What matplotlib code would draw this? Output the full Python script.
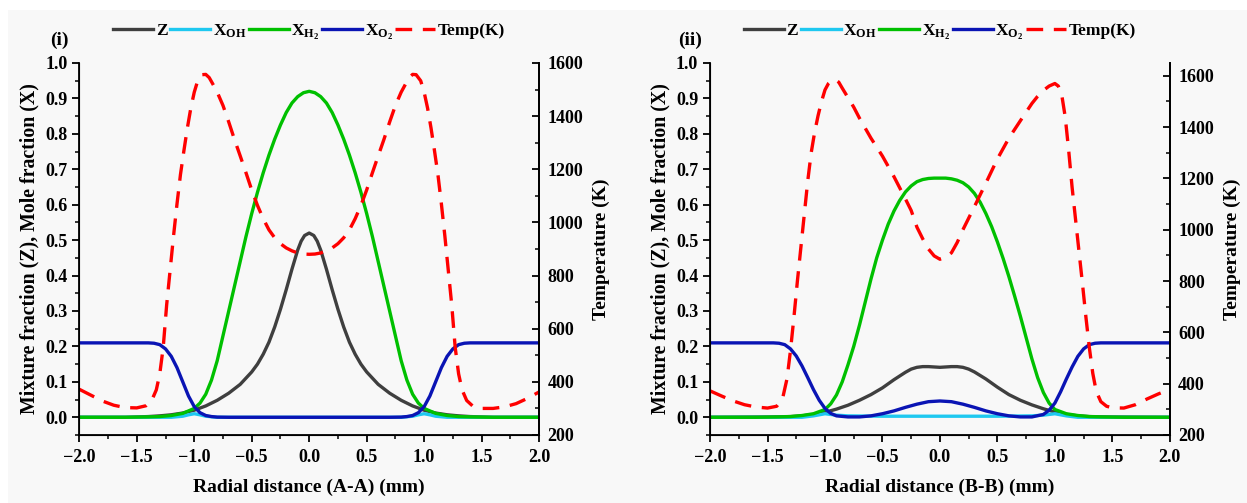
import matplotlib
matplotlib.use('Agg')
import matplotlib.pyplot as plt
from matplotlib.ticker import MultipleLocator, FuncFormatter
from matplotlib.patches import Rectangle

plt.rcParams['font.family'] = 'Liberation Serif'
plt.rcParams['font.weight'] = 'bold'
plt.rcParams['mathtext.fontset'] = 'custom'
plt.rcParams['mathtext.rm'] = 'Liberation Serif:bold'
plt.rcParams['mathtext.bf'] = 'Liberation Serif:bold'
plt.rcParams['mathtext.it'] = 'Liberation Serif:bold'

# ---------------- panel (i) : section A-A ----------------
x_t1 = [-2.0, -1.9, -1.8, -1.7, -1.6, -1.5, -1.42, -1.37, -1.33, -1.3, -1.27, -1.24, -1.21, -1.18, -1.15,
        -1.12, -1.09, -1.06, -1.03, -1.0, -0.97, -0.93, -0.9, -0.87, -0.84, -0.8, -0.75, -0.7, -0.65, -0.6,
        -0.55, -0.5, -0.45, -0.4, -0.35, -0.3, -0.25, -0.2, -0.15, -0.1, -0.05, 0.0,
        0.05, 0.1, 0.15, 0.2, 0.25, 0.3, 0.35, 0.4, 0.45, 0.5, 0.55, 0.6, 0.65, 0.7, 0.75, 0.8, 0.84, 0.87,
        0.9, 0.93, 0.97, 1.0, 1.03, 1.06, 1.09, 1.12, 1.15, 1.18, 1.21, 1.24, 1.27, 1.3, 1.33, 1.37, 1.42,
        1.5, 1.6, 1.7, 1.8, 1.9, 2.0]
temp1 = [372, 350, 328, 312, 303, 302, 310, 330, 370, 430, 530, 690, 820, 950, 1070,
         1180, 1270, 1355, 1430, 1490, 1533, 1556, 1557, 1545, 1522, 1490, 1440, 1378, 1312, 1250,
         1187, 1122, 1064, 1014, 972, 942, 920, 904, 893, 885, 881, 880,
         881, 885, 893, 904, 920, 942, 972, 1014, 1064, 1122, 1187, 1250, 1312, 1378, 1440, 1490, 1522, 1545,
         1557, 1556, 1533, 1490, 1430, 1355, 1270, 1180, 1070, 950, 820, 690, 530, 430, 370, 330, 310,
         300, 300, 306, 318, 338, 362]

x_h2_1 = [-2.0, -1.6, -1.4, -1.3, -1.2, -1.1, -1.0, -0.95, -0.9, -0.85, -0.8, -0.75, -0.7, -0.65, -0.6,
          -0.55, -0.5, -0.45, -0.4, -0.35, -0.3, -0.25, -0.2, -0.15, -0.1, -0.05, 0.0,
          0.05, 0.1, 0.15, 0.2, 0.25, 0.3, 0.35, 0.4, 0.45, 0.5, 0.55, 0.6, 0.65, 0.7, 0.75, 0.8,
          0.85, 0.9, 0.95, 1.0, 1.1, 1.2, 1.3, 1.4, 1.6, 2.0]
h2_1 = [0, 0, 0.001, 0.002, 0.005, 0.011, 0.025, 0.04, 0.065, 0.105, 0.16, 0.23, 0.3, 0.37, 0.44,
        0.51, 0.575, 0.635, 0.69, 0.74, 0.785, 0.825, 0.86, 0.887, 0.905, 0.916, 0.92,
        0.916, 0.905, 0.887, 0.86, 0.825, 0.785, 0.74, 0.69, 0.635, 0.575, 0.51, 0.44, 0.37, 0.3, 0.23, 0.16,
        0.105, 0.065, 0.04, 0.025, 0.011, 0.005, 0.002, 0.001, 0, 0]

x_z1 = [-2.0, -1.6, -1.4, -1.3, -1.2, -1.1, -1.0, -0.9, -0.8, -0.7, -0.6, -0.5, -0.45, -0.4, -0.35, -0.3,
        -0.25, -0.2, -0.15, -0.1, -0.07, -0.04, 0.0, 0.04, 0.07, 0.1, 0.15, 0.2, 0.25, 0.3, 0.35, 0.4, 0.45, 0.5,
        0.6, 0.7, 0.8, 0.9, 1.0, 1.1, 1.2, 1.3, 1.4, 1.6, 2.0]
z1 = [0, 0, 0.002, 0.004, 0.007, 0.012, 0.02, 0.032, 0.048, 0.068, 0.093, 0.128, 0.15, 0.178, 0.212, 0.255,
      0.305, 0.36, 0.418, 0.472, 0.497, 0.513, 0.52, 0.513, 0.497, 0.472, 0.418, 0.36, 0.305, 0.255, 0.212,
      0.178, 0.15, 0.128, 0.093, 0.068, 0.048, 0.032, 0.02, 0.012, 0.007, 0.004, 0.002, 0, 0]

x_o2_1 = [-2.0, -1.5, -1.4, -1.35, -1.3, -1.25, -1.2, -1.15, -1.1, -1.05, -1.0, -0.95, -0.9, -0.85, -0.8,
          -0.7, 0.0, 0.7, 0.8, 0.85, 0.9, 0.95, 1.0, 1.05, 1.1, 1.15, 1.2, 1.25, 1.3, 1.35, 1.4, 1.5, 2.0]
o2_1 = [0.21, 0.21, 0.21, 0.209, 0.205, 0.193, 0.172, 0.14, 0.1, 0.06, 0.03, 0.013, 0.005, 0.002, 0.0005,
        0, 0, 0, 0.0005, 0.002, 0.005, 0.013, 0.03, 0.06, 0.1, 0.14, 0.172, 0.193, 0.205, 0.209, 0.21, 0.21, 0.21]

x_oh1 = [-2.0, -1.2, -1.1, -1.05, -1.0, -0.95, -0.9, -0.8, 0.0, 0.8, 0.9, 0.95, 1.0, 1.05, 1.1, 1.2, 2.0]
oh1 = [0, 0, 0.003, 0.007, 0.01, 0.007, 0.003, 0, 0, 0, 0.003, 0.007, 0.01, 0.007, 0.003, 0, 0]

# ---------------- panel (ii) : section B-B ----------------
x_t2 = [-2.0, -1.9, -1.8, -1.7, -1.6, -1.5, -1.42, -1.37, -1.33, -1.3, -1.27, -1.24, -1.21, -1.18, -1.15,
        -1.12, -1.09, -1.06, -1.03, -1.0, -0.97, -0.94, -0.91, -0.88, -0.85, -0.8, -0.75, -0.7, -0.6, -0.5,
        -0.4, -0.3, -0.25, -0.2, -0.15, -0.1, -0.05, 0.0, 0.05, 0.1, 0.15, 0.2, 0.3, 0.4, 0.5, 0.6, 0.7, 0.8, 0.85,
        0.9, 0.95, 1.0, 1.03, 1.06, 1.09, 1.12, 1.15, 1.18, 1.21, 1.24, 1.27, 1.3, 1.33, 1.36, 1.4, 1.45,
        1.5, 1.6, 1.7, 1.8, 1.9, 2.0]
temp2 = [372, 352, 333, 318, 309, 305, 312, 340, 420, 530, 660, 800, 930, 1060, 1190,
         1300, 1380, 1445, 1500, 1545, 1570, 1583, 1585, 1575, 1552, 1515, 1478, 1435, 1357, 1287,
         1207, 1120, 1075, 1010, 965, 925, 898, 885, 892, 910, 950, 1000, 1090, 1182, 1276, 1357, 1425, 1492, 1520,
         1543, 1560, 1570, 1560, 1525, 1440, 1310, 1165, 1040, 915, 790, 660, 540, 440, 370, 330, 312,
         306, 305, 318, 340, 360, 378]

x_h2_2 = [-2.0, -1.6, -1.4, -1.3, -1.2, -1.1, -1.0, -0.95, -0.9, -0.85, -0.8, -0.75, -0.7, -0.65, -0.6,
          -0.55, -0.5, -0.45, -0.4, -0.35, -0.3, -0.25, -0.2, -0.15, -0.1, -0.05, 0.0,
          0.05, 0.1, 0.15, 0.2, 0.25, 0.3, 0.35, 0.4, 0.45, 0.5, 0.55, 0.6, 0.65, 0.7, 0.75, 0.8,
          0.85, 0.9, 0.95, 1.0, 1.1, 1.2, 1.3, 1.4, 1.6, 2.0]
h2_2 = [0, 0, 0.001, 0.002, 0.005, 0.01, 0.022, 0.038, 0.063, 0.1, 0.148, 0.2, 0.26, 0.325, 0.39,
        0.45, 0.5, 0.545, 0.582, 0.612, 0.636, 0.653, 0.665, 0.671, 0.674, 0.675, 0.675,
        0.675, 0.673, 0.669, 0.662, 0.65, 0.632, 0.607, 0.575, 0.538, 0.495, 0.448, 0.397, 0.342, 0.285, 0.225, 0.165,
        0.112, 0.07, 0.04, 0.022, 0.01, 0.005, 0.002, 0.001, 0, 0]

x_z2 = [-2.0, -1.5, -1.3, -1.2, -1.1, -1.0, -0.9, -0.8, -0.7, -0.6, -0.5, -0.4, -0.3, -0.25, -0.2, -0.15,
        -0.1, -0.05, 0.0, 0.05, 0.1, 0.15, 0.2, 0.25, 0.3, 0.4, 0.5, 0.6, 0.7, 0.8, 0.9, 1.0, 1.1, 1.2,
        1.3, 1.5, 2.0]
z2 = [0, 0.001, 0.002, 0.004, 0.008, 0.014, 0.023, 0.034, 0.048, 0.064, 0.083, 0.106, 0.127, 0.136, 0.141, 0.143,
      0.143, 0.142, 0.141, 0.142, 0.143, 0.143, 0.141, 0.136, 0.128, 0.108, 0.085, 0.064, 0.048, 0.035, 0.024, 0.015,
      0.008, 0.004, 0.002, 0.001, 0]

x_o2_2 = [-2.0, -1.45, -1.4, -1.35, -1.3, -1.25, -1.2, -1.15, -1.1, -1.05, -1.0, -0.95, -0.9, -0.8, -0.7,
          -0.6, -0.5, -0.4, -0.3, -0.2, -0.1, 0.0, 0.1, 0.2, 0.3, 0.4, 0.5, 0.6, 0.7, 0.8, 0.9, 0.95, 1.0,
          1.05, 1.1, 1.15, 1.2, 1.25, 1.3, 1.35, 1.4, 1.45, 2.0]
o2_2 = [0.21, 0.21, 0.209, 0.205, 0.193, 0.173, 0.145, 0.112, 0.078, 0.048, 0.025, 0.011, 0.004, 0.001, 0.001,
        0.004, 0.01, 0.018, 0.028, 0.037, 0.044, 0.046, 0.044, 0.037, 0.028, 0.018, 0.01, 0.004, 0.001, 0.001,
        0.008, 0.02, 0.04, 0.072, 0.108, 0.142, 0.172, 0.193, 0.205, 0.209, 0.21, 0.21, 0.21]

x_oh2 = [-2.0, -1.2, -1.1, -1.0, -0.9, -0.8, -0.5, 0.0, 0.5, 0.8, 0.9, 1.0, 1.1, 1.2, 2.0]
oh2 = [0, 0, 0.004, 0.01, 0.006, 0.004, 0.003, 0.003, 0.003, 0.004, 0.006, 0.01, 0.004, 0, 0]

labels = ['Z', r'X$_{\mathbf{OH}}$', r'X$_{\mathbf{H_2}}$', r'X$_{\mathbf{O_2}}$', 'Temp(K)']
colors = ['#3f3f3f', '#1ec8f0', '#00c000', '#0a14b4', '#ff0000']
bg = '#f8f8f8'

fig = plt.figure(figsize=(12.47, 5.03), dpi=100, facecolor='white')
# grey page area, with the thin white strip at top and left as in the source image
fig.patches.append(Rectangle((8 / 1247, 0), 1, 1 - 10 / 503, transform=fig.transFigure,
                             facecolor=bg, edgecolor='none', zorder=-10))

panels = [
    (0.0636, 'Radial distance (A-A) (mm)', '(i)', 0.048, x_z1, z1, x_oh1, oh1, x_h2_1, h2_1, x_o2_1, o2_1, x_t1, temp1, 1600),
    (0.5694, 'Radial distance (B-B) (mm)', '(ii)', 0.553, x_z2, z2, x_oh2, oh2, x_h2_2, h2_2, x_o2_2, o2_2, x_t2, temp2, 1650),
]

W = 0.3687
for left, xlab, tag, tagx, xz, z, xoh, oh, xh2, h2, xo2, o2, xt, t, tmax in panels:
    ax = fig.add_axes([left, 0.1352, W, 0.7396], facecolor=bg)
    l1, = ax.plot(xz, z, color=colors[0], lw=2.4)
    l2, = ax.plot(xoh, oh, color=colors[1], lw=2.4)
    l3, = ax.plot(xh2, h2, color=colors[2], lw=2.4)
    l4, = ax.plot(xo2, o2, color=colors[3], lw=2.4)
    ax.set_xlim(-2, 2)
    ax.set_ylim(-0.05, 1.0)
    ax.xaxis.set_major_locator(MultipleLocator(0.5))
    ax.xaxis.set_minor_locator(MultipleLocator(0.25))
    ax.yaxis.set_major_locator(MultipleLocator(0.1))
    ax.yaxis.set_minor_locator(MultipleLocator(0.05))
    ax.xaxis.set_major_formatter(FuncFormatter(lambda v, p: '%.1f' % v if v >= 0 else '\u2212%.1f' % -v))
    ax.set_xlabel(xlab, fontsize=14, fontweight='bold', labelpad=9)
    ax.set_ylabel('Mixture fraction (Z), Mole fraction (X)', fontsize=14.3, fontweight='bold', labelpad=4)
    ax.spines['top'].set_visible(False)
    for s in ['left', 'bottom', 'right']:
        ax.spines[s].set_linewidth(1.3)
    ax.tick_params(which='major', direction='out', length=5, width=1.3, labelsize=13)
    ax.tick_params(which='minor', direction='out', length=3, width=1.1)
    ax.tick_params(axis='x', which='major', pad=5)
    ax.tick_params(axis='y', which='major', pad=3.5)

    ax2 = ax.twinx()
    l5, = ax2.plot(xt, t, color=colors[4], lw=2.4, dashes=(5, 3.2))
    ax2.set_ylim(200, tmax)
    ax2.yaxis.set_major_locator(MultipleLocator(200))
    ax2.yaxis.set_minor_locator(MultipleLocator(100))
    ax2.spines['top'].set_visible(False)
    ax2.spines['right'].set_linewidth(1.3)
    # temperature axis ticks point into the plot
    ax2.tick_params(which='major', direction='in', length=5, width=1.3, labelsize=13, pad=6)
    ax2.tick_params(which='minor', direction='in', length=3, width=1.1)
    ax2.set_ylabel('Temperature (K)', fontsize=14, fontweight='bold', labelpad=7)

    ax.legend([l1, l2, l3, l4, l5], labels, loc='center', bbox_to_anchor=(left + W / 2, 1 - 32 / 503),
              bbox_transform=fig.transFigure, ncol=5, frameon=False, fontsize=12.5,
              handlelength=2.3, handletextpad=0.15, columnspacing=0.15, borderaxespad=0, borderpad=0)
    fig.text(tagx, 1 - 40 / 503, tag, fontsize=14, fontweight='bold', ha='center', va='center')

fig.savefig('out.png', dpi=100, facecolor='white')
